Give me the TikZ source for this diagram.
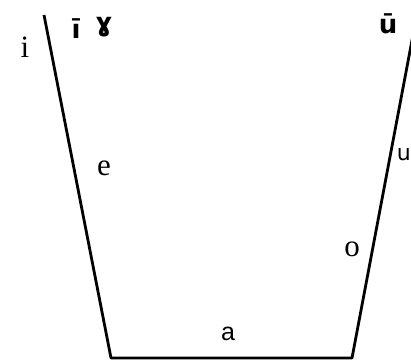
\documentclass[tikz,border=0pt]{standalone}
\usepackage{fontspec}
\newfontfamily\ipafont{DejaVu Sans}
\newfontfamily\sansfont{Liberation Sans}
\newfontfamily\seriffont{Liberation Serif}

\begin{document}
\begin{tikzpicture}[x=1pt,y=-1pt,
  side/.style={line width=2.8pt, line join=round},
  vowel/.style={inner sep=0pt, font=\seriffont\fontsize{31}{33}\selectfont},
  ipa/.style={inner sep=0pt, font=\ipafont\bfseries\fontsize{26}{28}\selectfont}]

\useasboundingbox (0,0) rectangle (411,362);

\coordinate (tl) at (44,15);
\coordinate (bl) at (111,358);
\coordinate (br) at (352,358);
\coordinate (tr) at (413,35);

\draw[side] (tl) -- (bl) -- (br) -- (tr);

\node[vowel] (i) at (25,47) {i};
\node[ipa] (ibar) at (76,29) {ī};
\node[ipa] (gam) at (104,27) {ɣ};
\node[ipa] (ubar) at (388,24) {ū};
\node[vowel] (e) at (104,168) {e};
\node[ipa, font=\ipafont\fontsize{22}{24}\selectfont, anchor=east] (u) at (411,154) {u};
\node[vowel] (o) at (352,249) {o};
\node[vowel, font=\sansfont\fontsize{25}{27}\selectfont] (a) at (228,334) {a};

\end{tikzpicture}
\end{document}
